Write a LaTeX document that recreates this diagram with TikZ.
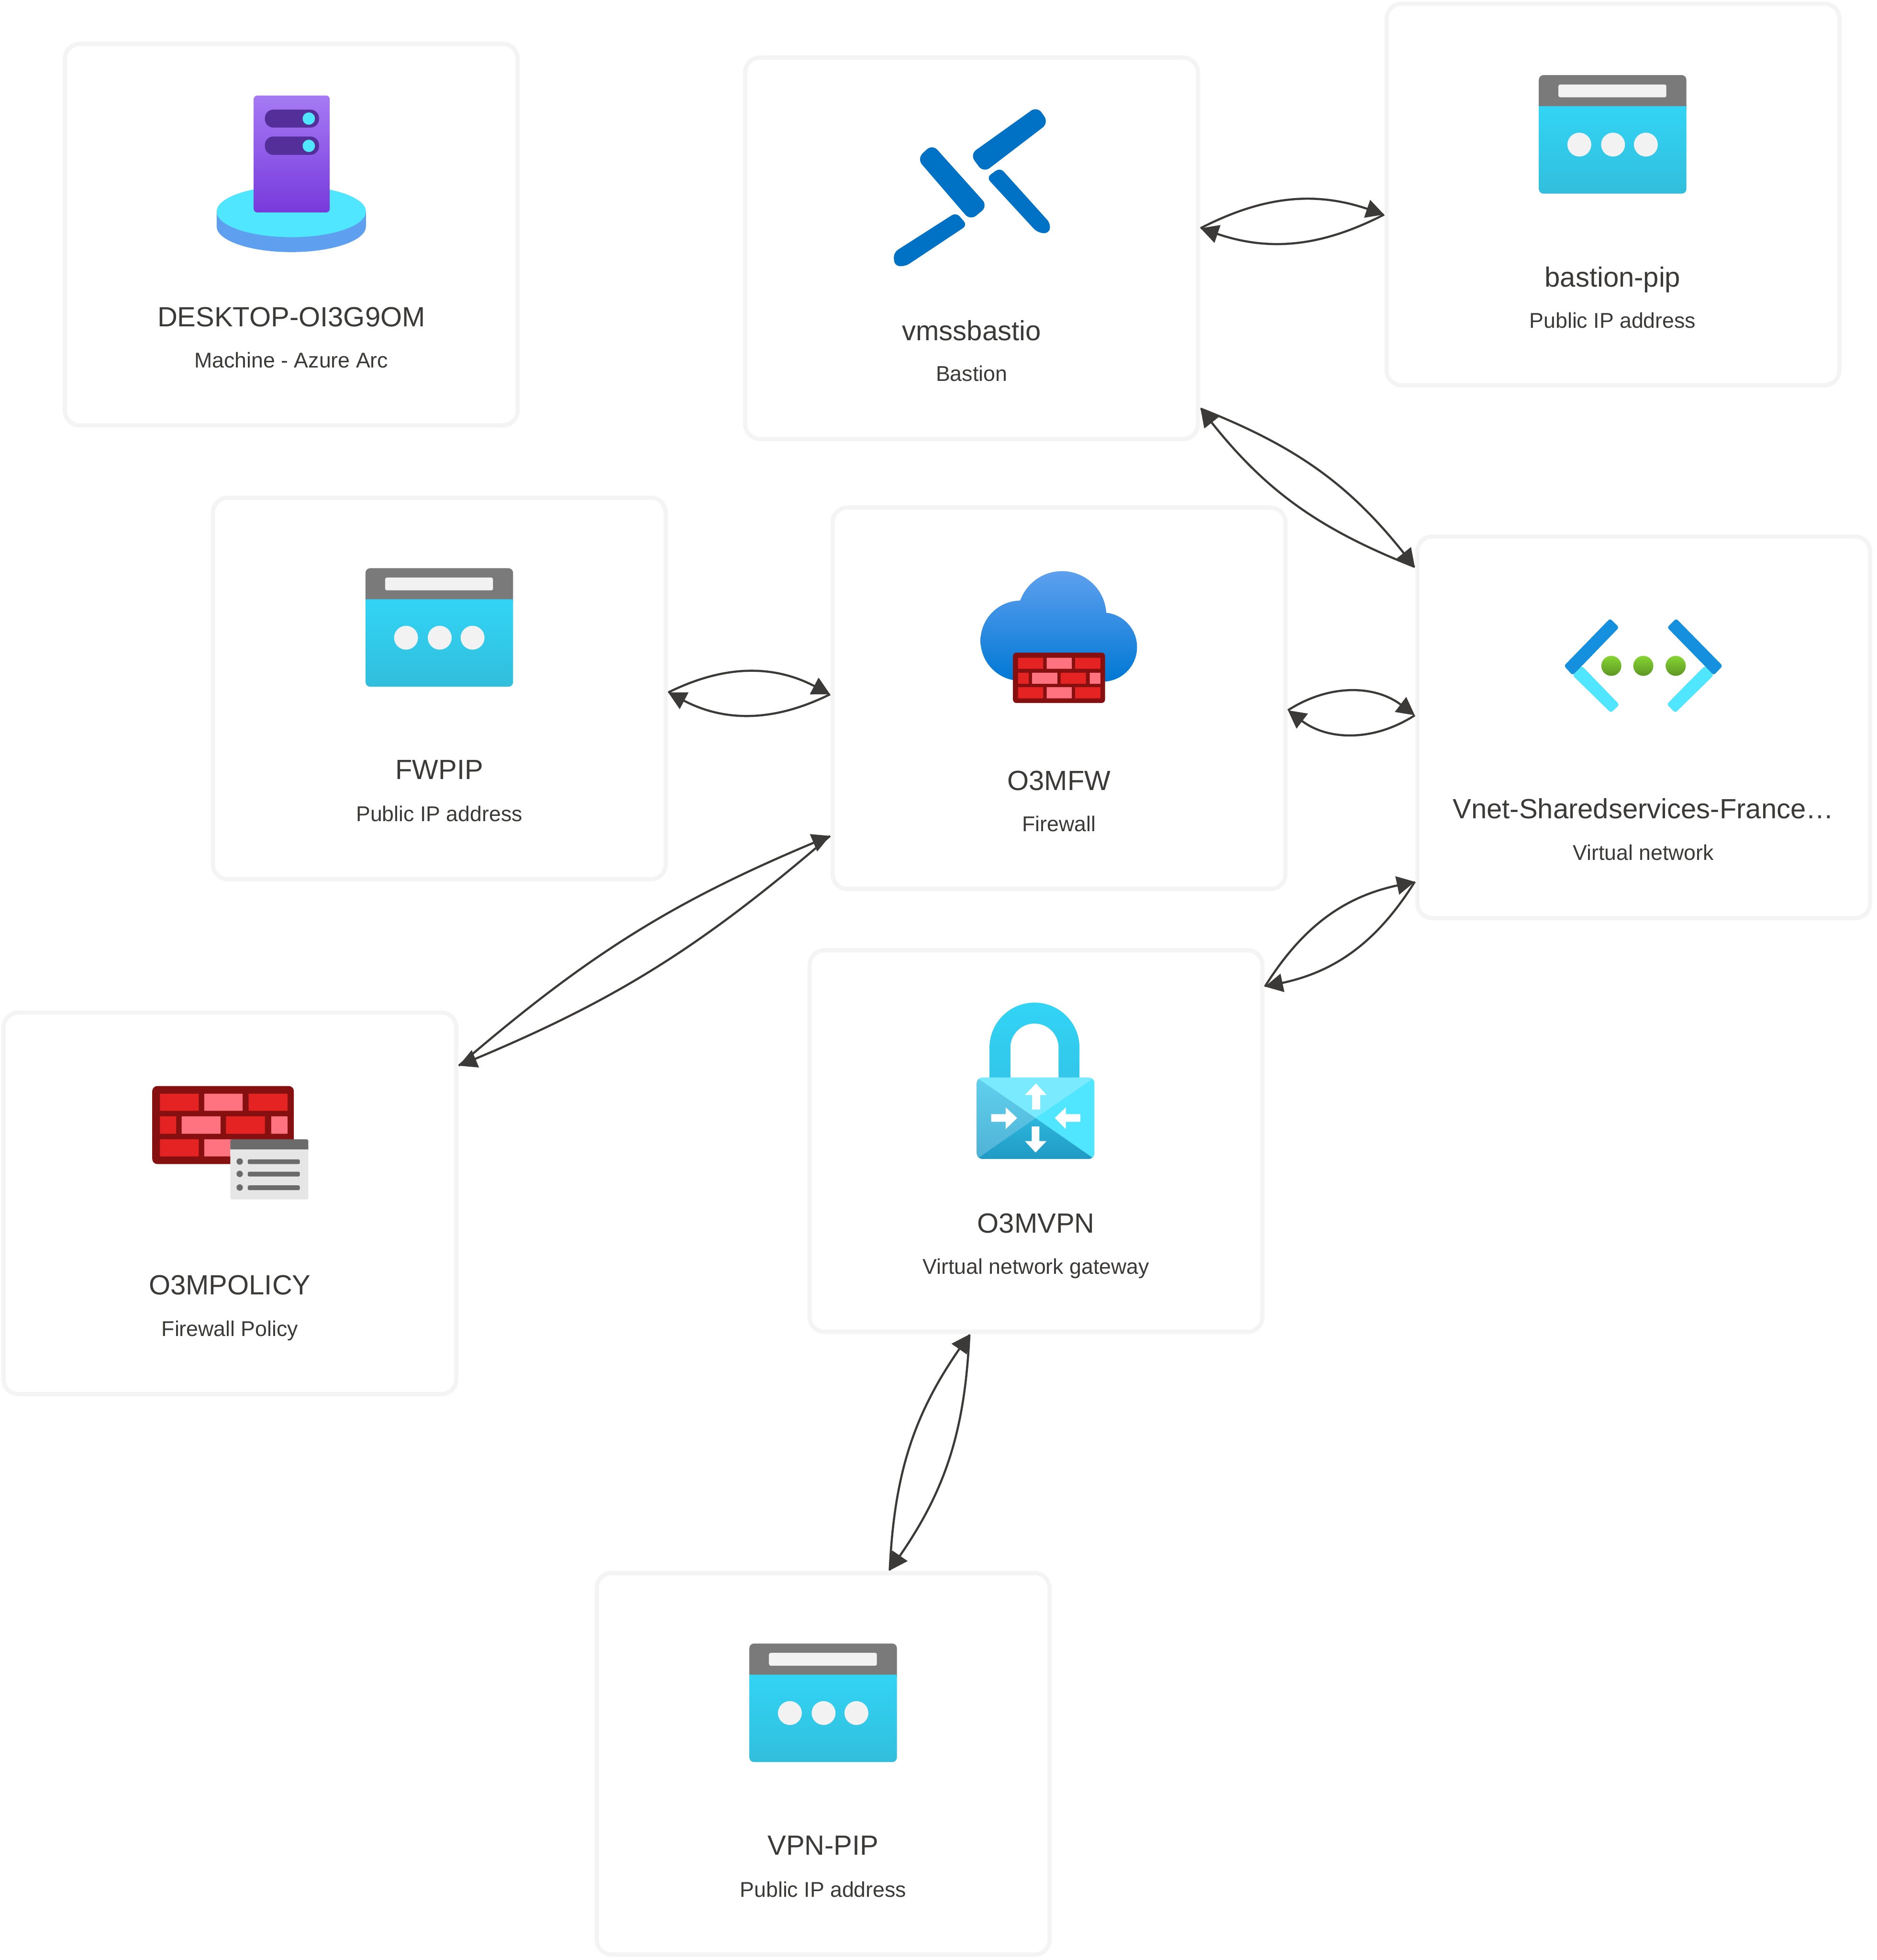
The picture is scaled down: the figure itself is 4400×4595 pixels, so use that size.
\documentclass[tikz,border=0pt]{standalone}
\usepackage{fontspec}
\setmainfont{Liberation Sans}
\usetikzlibrary{arrows.meta}
\definecolor{cardline}{HTML}{F4F4F4}
\definecolor{inkgray}{HTML}{3B3A39}
\definecolor{barblue}{HTML}{0072C6}
\definecolor{netblue}{HTML}{1490DF}
\definecolor{skyblue}{HTML}{50E6FF}
\definecolor{diskblue}{HTML}{5EA0EF}
\definecolor{cloudlow}{HTML}{0078D4}
\definecolor{towertop}{HTML}{A67AF4}
\definecolor{towerlow}{HTML}{773ADC}
\definecolor{towerdark}{HTML}{552F99}
\definecolor{ipcyan}{HTML}{32D4F5}
\definecolor{ipcyanlow}{HTML}{32BEDD}
\definecolor{ipgray}{HTML}{7A7A7A}
\definecolor{ipwhite}{HTML}{F2F2F2}
\definecolor{brickdark}{HTML}{861010}
\definecolor{brickred}{HTML}{E62323}
\definecolor{brickpink}{HTML}{FF7381}
\definecolor{docgray}{HTML}{6B6B6B}
\definecolor{docbody}{HTML}{E6E6E6}
\definecolor{dotgreen}{HTML}{86D633}
\definecolor{dotlow}{HTML}{5E9624}
\definecolor{lockpale}{HTML}{7AEBFF}
\definecolor{lockleft}{HTML}{60D0EE}
\definecolor{lockleftlow}{HTML}{50B2D6}
\definecolor{locklow}{HTML}{2DB6DC}
\definecolor{locklowend}{HTML}{1F9AC4}
\definecolor{shacklelow}{HTML}{32C6EA}
\tikzset{pipicon/.pic={
  \fill[ipgray, rounded corners=.11cm] (-173,-280) rectangle (173,-190);
  \shade[top color=ipcyan, middle color=ipcyan, bottom color=ipcyanlow] (-173,-207) -- (173,-207) [rounded corners=.11cm] -- (173,-2) -- (-173,-2) [sharp corners] -- cycle;
  \fill[ipwhite, rounded corners=.04cm] (-127,-258) rectangle (126,-228);
  \fill[ipwhite] (-78,-117) circle[radius=28] (1,-117) circle[radius=28] (78,-117) circle[radius=28];
}}

\begin{document}
\begin{tikzpicture}[x=0.01cm, y=-0.01cm,
  card/.style={draw=cardline, fill=white, line width=1mm, rounded corners=3.5mm, minimum width=10.61cm, minimum height=8.94cm, outer sep=0.6mm},
  titlelabel/.style={anchor=base, inner sep=0pt, text=inkgray, font=\fontsize{18.5}{22}\selectfont},
  sublabel/.style={anchor=base, inner sep=0pt, text=inkgray, font=\fontsize{14.25}{17}\selectfont},
  link/.style={->, >={Triangle[length=4.2mm, width=4.3mm]}, line width=0.5mm, draw=inkgray}]
\useasboundingbox (0,0) rectangle (4400,4595);
% cards
\node[card] (desktop) at (683,550) {};
\node[card] (bastion) at (2278,582) {};
\node[card] (bastionpip) at (3782,456) {};
\node[card] (fwpip) at (1030,1614) {};
\node[card] (firewall) at (2483,1637) {};
\node[card] (vnet) at (3854,1705) {};
\node[card] (policy) at (539,2821) {};
\node[card] (vpn) at (2429,2675) {};
\node[card] (vpnpip) at (1930,4135) {};
% texts
\node[titlelabel] (desktopname) at (683,766) {DESKTOP-OI3G9OM};
\node[sublabel] (desktopkind) at (683,862) {Machine - Azure Arc};
\node[titlelabel] (bastionname) at (2278,798) {vmssbastio};
\node[sublabel] (bastionkind) at (2278,894) {Bastion};
\node[titlelabel] (bastionpipname) at (3781,672) {bastion-pip};
\node[sublabel] (bastionpipkind) at (3781,769) {Public IP address};
\node[titlelabel] (fwpipname) at (1030,1827) {FWPIP};
\node[sublabel] (fwpipkind) at (1030,1926) {Public IP address};
\node[titlelabel] (firewallname) at (2483,1853) {O3MFW};
\node[sublabel] (firewallkind) at (2483,1949) {Firewall};
\node[titlelabel] (vnetname) at (3853,1919) {Vnet-Sharedservices-France…};
\node[sublabel] (vnetkind) at (3853,2016) {Virtual network};
\node[titlelabel] (policyname) at (539,3035) {O3MPOLICY};
\node[sublabel] (policykind) at (539,3133) {Firewall Policy};
\node[titlelabel] (vpnname) at (2429,2890) {O3MVPN};
\node[sublabel] (vpnkind) at (2429,2987) {Virtual network gateway};
\node[titlelabel] (vpnpipname) at (1930,4349) {VPN-PIP};
\node[sublabel] (vpnpipkind) at (1930,4447) {Public IP address};
% desktop icon
\fill[diskblue] (508,496) -- (508,531) arc[start angle=180, end angle=0, x radius=175, y radius=60] -- (858,496) -- cycle;
\fill[skyblue] (683,496) ellipse[x radius=175, y radius=60];
\shade[top color=towertop, bottom color=towerlow, rounded corners=.08cm] (595,224) rectangle (773,498);
\fill[towerdark, rounded corners=.2cm] (621,257) rectangle (748,299) (621,320) rectangle (748,363);
\fill[skyblue] (724,278) circle[radius=14.5] (724,342) circle[radius=14.5];
% bastion icon
\fill[barblue, rounded corners=.18cm] (2274,362) -- (2432,249) -- (2459,288) -- (2306,405) -- cycle;
\fill[barblue, rounded corners=.18cm] (2150,372) -- (2186,338) -- (2316,483) -- (2275,517) -- cycle;
\fill[barblue, rounded corners=.12cm] (2345,393) -- (2464,525) -- (2459,548) -- (2432,545) -- (2313,416) -- cycle;
\fill[barblue, rounded corners=.12cm] (2242,498) -- (2268,528) -- (2122,625) -- (2097,623) -- (2095,592) -- cycle;
% public ip icons
\pic at (3781,456) {pipicon};
\pic at (1030,1612) {pipicon};
\pic at (1930,4133) {pipicon};
% firewall icon
\shade[top color=diskblue, bottom color=cloudlow] (2393,1502) circle[radius=94] (2490,1443) circle[radius=104] (2585,1517) circle[radius=81] (2585,1500) rectangle (2393,1597);
\fill[brickdark, rounded corners=.08cm] (2375,1530) rectangle (2591,1648);
\fill[brickred] (2387,1542) rectangle (2446,1568) (2521,1542) rectangle (2580,1568) (2387,1577) rectangle (2412,1603) (2487,1577) rectangle (2546,1603) (2387,1611) rectangle (2446,1637) (2521,1611) rectangle (2580,1637);
\fill[brickpink] (2454,1542) rectangle (2513,1568) (2420,1577) rectangle (2479,1603) (2555,1577) rectangle (2580,1603) (2454,1611) rectangle (2513,1637);
% vnet icon
\fill[skyblue, rounded corners=.05cm] (3687,1583) -- (3709,1561) -- (3797,1652) -- (3777,1671) -- cycle (4018,1583) -- (3997,1561) -- (3908,1651) -- (3928,1671) -- cycle;
\fill[netblue, rounded corners=.05cm] (3667,1561) -- (3775,1450) -- (3796,1471) -- (3709,1561) -- (3687,1583) -- cycle;
\fill[netblue, rounded corners=.05cm] (4039,1561) -- (3930,1450) -- (3909,1471) -- (3997,1561) -- (4018,1583) -- cycle;
\shade[top color=dotgreen, bottom color=dotlow] (3778,1561) circle[radius=23.5];
\shade[top color=dotgreen, bottom color=dotlow] (3853,1561) circle[radius=23.5];
\shade[top color=dotgreen, bottom color=dotlow] (3929,1561) circle[radius=23.5];
% policy icon
\fill[brickdark, rounded corners=.12cm] (357,2546) rectangle (689,2729);
\fill[brickred] (375,2564) rectangle (466,2604) (583,2564) rectangle (674,2604) (375,2617) rectangle (413,2658) (530,2617) rectangle (621,2658) (375,2671) rectangle (466,2711);
\fill[brickpink] (479,2564) rectangle (569,2604) (426,2617) rectangle (517,2658) (636,2617) rectangle (674,2658) (479,2671) rectangle (569,2711);
\fill[docbody, rounded corners=.04cm] (540,2680) rectangle (723,2812);
\fill[docgray, rounded corners=.04cm] (540,2671) rectangle (723,2700);
\fill[docbody] (540,2695) rectangle (723,2705);
\fill[docgray] (562,2723) circle[radius=7.5] (562,2752) circle[radius=7.5] (562,2784) circle[radius=7.5];
\fill[docgray, rounded corners=.03cm] (581,2718) rectangle (703,2729) (581,2747) rectangle (703,2758) (581,2779) rectangle (703,2790);
% vpn icon
\shade[top color=ipcyan, bottom color=shacklelow] (2320,2530) -- (2320,2456) arc[start angle=180, end angle=360, radius=105.5] -- (2531,2530) -- (2482,2530) -- (2482,2456) arc[start angle=0, end angle=-180, radius=56.5] -- (2369,2530) -- cycle;
\begin{scope}
\clip[rounded corners=.13cm] (2290,2526) rectangle (2566,2717);
\fill[lockpale] (2290,2526) -- (2566,2526) -- (2428,2621) -- cycle;
\fill[skyblue] (2566,2526) -- (2566,2717) -- (2428,2621) -- cycle;
\shade[top color=lockleft, bottom color=lockleftlow] (2290,2526) -- (2428,2621) -- (2290,2717) -- cycle;
\shade[top color=locklow, bottom color=locklowend] (2290,2717) -- (2428,2621) -- (2566,2717) -- cycle;
\end{scope}
\fill[white] (2429,2540) -- (2454,2567) -- (2439,2567) -- (2439,2601) -- (2420,2601) -- (2420,2567) -- (2403,2567) -- cycle;
\fill[white] (2428,2702) -- (2454,2675) -- (2437,2675) -- (2437,2641) -- (2419,2641) -- (2419,2675) -- (2403,2675) -- cycle;
\fill[white] (2385,2621) -- (2358,2596) -- (2358,2612) -- (2324,2612) -- (2324,2630) -- (2358,2630) -- (2358,2647) -- cycle;
\fill[white] (2473,2621) -- (2499,2596) -- (2499,2612) -- (2533,2612) -- (2533,2630) -- (2499,2630) -- (2499,2647) -- cycle;
% links
\draw[link] (bastion.5) to[bend left=23] (bastionpip.185.1);
\draw[link] (bastionpip.185.1) to[bend left=23] (bastion.5);
\draw[link] (bastion.325.4) to[bend left=15] (vnet.145.4);
\draw[link] (vnet.145.4) to[bend left=15] (bastion.325.4);
\draw[link] (fwpip.359.2) to[bend left=27] (firewall.179.3);
\draw[link] (firewall.179.3) to[bend left=27] (fwpip.359.2);
\draw[link] (firewall.357.3) to[bend left=35] (vnet.177.9);
\draw[link] (vnet.177.9) to[bend left=35] (firewall.357.3);
\draw[link] (firewall.211.5) to[bend left=9] (policy.31.4);
\draw[link] (policy.31.4) to[bend left=9] (firewall.211.5);
\draw[link] (vnet.214.9) to[bend left=23] (vpn.34.9);
\draw[link] (vpn.34.9) to[bend left=23] (vnet.214.9);
\draw[link] (vpn.251.3) to[bend left=16] (vpnpip.71.2);
\draw[link] (vpnpip.71.2) to[bend left=16] (vpn.251.3);
\end{tikzpicture}
\end{document}
